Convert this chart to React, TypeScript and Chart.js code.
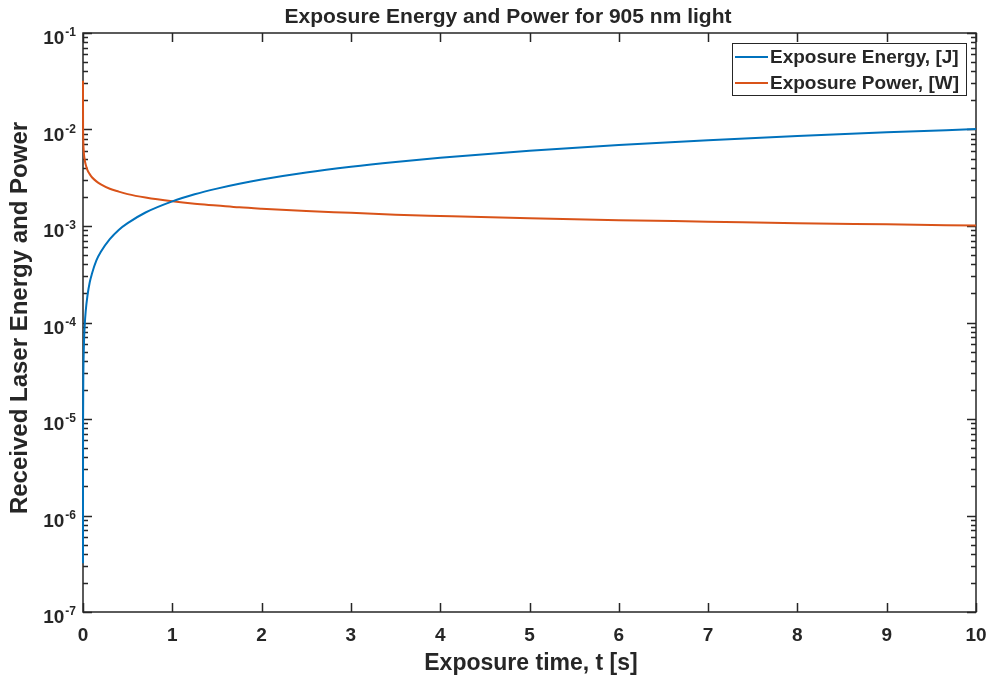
import React, { useEffect, useRef } from 'react';
import { Chart, registerables } from 'chart.js';

Chart.register(...registerables);

const TITLE = 'Exposure Energy and Power for 905 nm light';
const X_TITLE = 'Exposure time, t [s]';
const Y_TITLE = 'Received Laser Energy and Power';
const SERIES_NAMES = ['Exposure Energy, [J]', 'Exposure Power, [W]'];
const SERIES_COLORS = ['#0072BD', '#D95319'];

// Exposure time, seconds
const timeS = [
  0.00001, 0.0001, 0.001, 0.003, 0.01, 0.02, 0.03, 0.05, 0.075, 0.1, 0.15, 0.2,
  0.3, 0.4, 0.5, 0.7, 1, 1.25, 1.5, 1.75, 2, 2.5, 3, 3.5, 4, 5, 6, 7, 8, 9, 10,
];
// Exposure energy, J
const energyJ = [
  3.2e-7, 1.8e-6, 1.0e-5, 2.3e-5, 5.7e-5, 9.6e-5, 1.3e-4, 1.9e-4, 2.6e-4, 3.2e-4, 4.4e-4, 5.4e-4,
  7.3e-4, 9.1e-4, 1.07e-3, 1.38e-3, 1.8e-3, 2.13e-3, 2.44e-3, 2.74e-3, 3.03e-3, 3.58e-3, 4.1e-3, 4.6e-3, 5.09e-3, 6.02e-3, 6.9e-3, 7.75e-3, 8.56e-3, 9.35e-3, 1.01e-2,
];
// Exposure power, W
const powerW = [
  3.2e-2, 1.8e-2, 1.0e-2, 7.7e-3, 5.7e-3, 4.8e-3, 4.33e-3, 3.8e-3, 3.45e-3, 3.2e-3, 2.9e-3, 2.7e-3,
  2.43e-3, 2.27e-3, 2.14e-3, 1.97e-3, 1.8e-3, 1.7e-3, 1.63e-3, 1.56e-3, 1.51e-3, 1.43e-3, 1.37e-3, 1.31e-3, 1.27e-3, 1.2e-3, 1.15e-3, 1.11e-3, 1.07e-3, 1.04e-3, 1.01e-3,
];

const xTicks = [0, 1, 2, 3, 4, 5, 6, 7, 8, 9, 10];
const yDecadeExponents = [-7, -6, -5, -4, -3, -2, -1];

const FONT = '"Liberation Sans", Arial, Helvetica, sans-serif';
const INK = '#262626';

const axesPlugin = {
  id: 'matlabAxes',
  beforeDatasetsDraw(chart: any) {
    const ctx = chart.ctx as CanvasRenderingContext2D;
    const { left, right, top, bottom } = chart.chartArea;
    const xs = chart.scales.x;
    const ys = chart.scales.y;
    ctx.save();
    ctx.strokeStyle = INK;
    ctx.lineWidth = 1.5;
    ctx.strokeRect(left, top, right - left, bottom - top);

    ctx.beginPath();
    xTicks.forEach((v) => {
      const px = Math.round(xs.getPixelForValue(v)) + 0.5;
      ctx.moveTo(px, bottom);
      ctx.lineTo(px, bottom - 9);
      ctx.moveTo(px, top);
      ctx.lineTo(px, top + 9);
    });
    for (let e = -7; e <= -1; e++) {
      for (let m = 1; m <= 9; m++) {
        if (e === -1 && m > 1) break;
        const val = m * Math.pow(10, e);
        const py = Math.round(ys.getPixelForValue(val)) + 0.5;
        const len = m === 1 ? 9 : 5;
        ctx.moveTo(left, py);
        ctx.lineTo(left + len, py);
        ctx.moveTo(right, py);
        ctx.lineTo(right - len, py);
      }
    }
    ctx.stroke();
    ctx.restore();
  },
  afterDraw(chart: any) {
    const ctx = chart.ctx as CanvasRenderingContext2D;
    const { left } = chart.chartArea;
    const ys = chart.scales.y;
    ctx.save();
    ctx.fillStyle = INK;

    yDecadeExponents.forEach((e) => {
      const py = ys.getPixelForValue(Math.pow(10, e));
      const sup = String(e);
      ctx.font = `bold 12px ${FONT}`;
      const supW = ctx.measureText(sup).width;
      ctx.textAlign = 'right';
      ctx.textBaseline = 'alphabetic';
      const supRight = left - 7;
      ctx.fillText(sup, supRight, py + 3);
      ctx.font = `bold 19px ${FONT}`;
      ctx.fillText('10', supRight - supW - 1, py + 11);
    });

    ctx.textAlign = 'center';
    ctx.textBaseline = 'middle';
    ctx.font = `bold 21px ${FONT}`;
    ctx.fillText(TITLE, 508, 17);
    ctx.font = `bold 23px ${FONT}`;
    ctx.fillText(X_TITLE, 531, 664);
    ctx.save();
    ctx.translate(20, 318);
    ctx.rotate(-Math.PI / 2);
    ctx.font = `bold 24px ${FONT}`;
    ctx.fillText(Y_TITLE, 0, 0);
    ctx.restore();

    const lx = 732, ly = 43, lw = 234, lh = 52;
    ctx.fillStyle = '#ffffff';
    ctx.fillRect(lx, ly, lw, lh);
    ctx.lineWidth = 1;
    ctx.strokeStyle = INK;
    ctx.strokeRect(lx + 0.5, ly + 0.5, lw, lh);
    chart.data.datasets.forEach((ds: any, i: number) => {
      const cy = ly + 14 + i * 26;
      ctx.strokeStyle = ds.borderColor;
      ctx.lineWidth = 2;
      ctx.beginPath();
      ctx.moveTo(lx + 3, cy);
      ctx.lineTo(lx + 36, cy);
      ctx.stroke();
      ctx.fillStyle = INK;
      ctx.font = `bold 19px ${FONT}`;
      ctx.textAlign = 'left';
      ctx.textBaseline = 'middle';
      ctx.fillText(ds.label, lx + 38, cy + 1);
    });
    ctx.restore();
  },
};

export default function App() {
  const canvasRef = useRef<HTMLCanvasElement | null>(null);

  useEffect(() => {
    document.body.style.margin = '0';
    const canvas = canvasRef.current;
    if (!canvas) return;
    const chart = new Chart(canvas, {
      type: 'line',
      data: {
        datasets: [
          {
            label: SERIES_NAMES[0],
            data: timeS.map((t, i) => ({ x: t, y: energyJ[i] })),
            borderColor: SERIES_COLORS[0],
            borderWidth: 2,
            pointRadius: 0,
            cubicInterpolationMode: 'monotone',
            fill: false,
            clip: false,
          },
          {
            label: SERIES_NAMES[1],
            data: timeS.map((t, i) => ({ x: t, y: powerW[i] })),
            borderColor: SERIES_COLORS[1],
            borderWidth: 2,
            pointRadius: 0,
            cubicInterpolationMode: 'monotone',
            fill: false,
            clip: false,
          },
        ],
      },
      options: {
        responsive: false,
        animation: false,
        devicePixelRatio: 1,
        layout: { padding: { left: 0, top: 33, right: 15, bottom: 0 } },
        plugins: {
          legend: { display: false },
          title: { display: false },
          tooltip: { enabled: false },
        },
        scales: {
          x: {
            type: 'linear',
            min: 0,
            max: 10,
            grid: { display: false, drawTicks: false },
            border: { display: false },
            ticks: {
              stepSize: 1,
              padding: 12,
              color: INK,
              font: { family: FONT, size: 19, weight: 'bold' },
            },
            afterFit: (s: any) => {
              s.height = 67;
              s.paddingLeft = 0;
              s.paddingRight = 0;
            },
          },
          y: {
            type: 'logarithmic',
            min: 1e-7,
            max: 1e-1,
            grid: { display: false, drawTicks: false },
            border: { display: false },
            ticks: { display: false },
            afterFit: (s: any) => {
              s.width = 83;
              s.paddingTop = 0;
              s.paddingBottom = 0;
            },
          },
        },
      } as any,
      plugins: [axesPlugin],
    });
    return () => chart.destroy();
  }, []);

  return (
    <div style={{ width: 991, height: 679, background: '#fff' }}>
      <canvas ref={canvasRef} width={991} height={679} style={{ display: 'block' }} />
    </div>
  );
}
